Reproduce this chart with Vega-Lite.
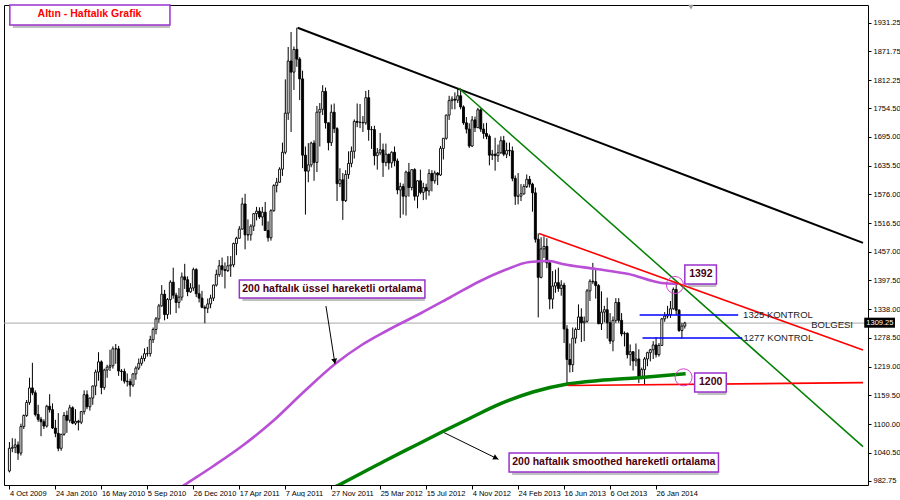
{
"$schema": "https://vega.github.io/schema/vega-lite/v6.json",
"width": 864,
"height": 480,
"padding": {"left": 3, "top": 4, "right": 0, "bottom": 0},
"background": "white",
"config": {
  "view": {"stroke": "black", "strokeWidth": 1},
  "axis": {"labelFont": "Liberation Sans", "labelFontSize": 7.5, "labelColor": "black", "tickColor": "black", "domainColor": "black", "grid": false, "title": null}
},
"resolve": {"axis": {"x": "independent", "y": "independent"}},
"datasets": {
  "candles": [
    {"d":"2009-10-04","o":1003,"h":1063,"l":1000,"c":1050},
    {"d":"2009-10-11","o":1050,"h":1071,"l":1042,"c":1052},
    {"d":"2009-10-18","o":1052,"h":1070,"l":1040,"c":1057},
    {"d":"2009-10-25","o":1057,"h":1064,"l":1026,"c":1040},
    {"d":"2009-11-01","o":1040,"h":1101,"l":1035,"c":1095},
    {"d":"2009-11-08","o":1095,"h":1120,"l":1090,"c":1118},
    {"d":"2009-11-15","o":1118,"h":1150,"l":1115,"c":1145},
    {"d":"2009-11-22","o":1145,"h":1196,"l":1140,"c":1175},
    {"d":"2009-11-29","o":1175,"h":1227,"l":1160,"c":1165},
    {"d":"2009-12-06","o":1165,"h":1170,"l":1116,"c":1120},
    {"d":"2009-12-13","o":1120,"h":1140,"l":1105,"c":1110},
    {"d":"2009-12-20","o":1110,"h":1115,"l":1075,"c":1105},
    {"d":"2009-12-27","o":1105,"h":1110,"l":1090,"c":1096},
    {"d":"2010-01-03","o":1096,"h":1140,"l":1093,"c":1137},
    {"d":"2010-01-10","o":1137,"h":1162,"l":1124,"c":1130},
    {"d":"2010-01-17","o":1130,"h":1143,"l":1090,"c":1092},
    {"d":"2010-01-24","o":1092,"h":1109,"l":1073,"c":1081},
    {"d":"2010-01-31","o":1081,"h":1123,"l":1044,"c":1050},
    {"d":"2010-02-07","o":1050,"h":1080,"l":1045,"c":1079},
    {"d":"2010-02-14","o":1079,"h":1125,"l":1076,"c":1118},
    {"d":"2010-02-21","o":1118,"h":1128,"l":1082,"c":1108},
    {"d":"2010-02-28","o":1108,"h":1140,"l":1103,"c":1134},
    {"d":"2010-03-07","o":1134,"h":1137,"l":1100,"c":1102},
    {"d":"2010-03-14","o":1102,"h":1131,"l":1098,"c":1106},
    {"d":"2010-03-21","o":1106,"h":1109,"l":1087,"c":1104},
    {"d":"2010-03-28","o":1104,"h":1127,"l":1100,"c":1126},
    {"d":"2010-04-04","o":1126,"h":1170,"l":1120,"c":1161},
    {"d":"2010-04-11","o":1161,"h":1170,"l":1131,"c":1136},
    {"d":"2010-04-18","o":1136,"h":1155,"l":1128,"c":1154},
    {"d":"2010-04-25","o":1154,"h":1180,"l":1140,"c":1179},
    {"d":"2010-05-02","o":1179,"h":1213,"l":1160,"c":1208},
    {"d":"2010-05-09","o":1208,"h":1249,"l":1190,"c":1229},
    {"d":"2010-05-16","o":1229,"h":1232,"l":1162,"c":1176},
    {"d":"2010-05-23","o":1176,"h":1215,"l":1171,"c":1212},
    {"d":"2010-05-30","o":1212,"h":1223,"l":1196,"c":1218},
    {"d":"2010-06-06","o":1218,"h":1254,"l":1210,"c":1221},
    {"d":"2010-06-13","o":1221,"h":1261,"l":1215,"c":1256},
    {"d":"2010-06-20","o":1256,"h":1266,"l":1225,"c":1256},
    {"d":"2010-06-27","o":1256,"h":1262,"l":1200,"c":1210},
    {"d":"2010-07-04","o":1210,"h":1214,"l":1190,"c":1209},
    {"d":"2010-07-11","o":1209,"h":1215,"l":1184,"c":1189},
    {"d":"2010-07-18","o":1189,"h":1205,"l":1178,"c":1188},
    {"d":"2010-07-25","o":1188,"h":1194,"l":1157,"c":1181},
    {"d":"2010-08-01","o":1181,"h":1206,"l":1177,"c":1204},
    {"d":"2010-08-08","o":1204,"h":1220,"l":1192,"c":1216},
    {"d":"2010-08-15","o":1216,"h":1236,"l":1212,"c":1226},
    {"d":"2010-08-22","o":1226,"h":1242,"l":1221,"c":1236},
    {"d":"2010-08-29","o":1236,"h":1257,"l":1230,"c":1246},
    {"d":"2010-09-05","o":1246,"h":1260,"l":1240,"c":1246},
    {"d":"2010-09-12","o":1246,"h":1283,"l":1240,"c":1275},
    {"d":"2010-09-19","o":1275,"h":1300,"l":1268,"c":1296},
    {"d":"2010-09-26","o":1296,"h":1322,"l":1286,"c":1318},
    {"d":"2010-10-03","o":1318,"h":1349,"l":1310,"c":1345},
    {"d":"2010-10-10","o":1345,"h":1388,"l":1343,"c":1369},
    {"d":"2010-10-17","o":1369,"h":1378,"l":1315,"c":1327},
    {"d":"2010-10-24","o":1327,"h":1361,"l":1318,"c":1358},
    {"d":"2010-10-31","o":1358,"h":1398,"l":1327,"c":1394},
    {"d":"2010-11-07","o":1394,"h":1424,"l":1360,"c":1367},
    {"d":"2010-11-14","o":1367,"h":1372,"l":1330,"c":1352},
    {"d":"2010-11-21","o":1352,"h":1382,"l":1340,"c":1363},
    {"d":"2010-11-28","o":1363,"h":1414,"l":1356,"c":1405},
    {"d":"2010-12-05","o":1405,"h":1432,"l":1380,"c":1399},
    {"d":"2010-12-12","o":1399,"h":1406,"l":1365,"c":1374},
    {"d":"2010-12-19","o":1374,"h":1392,"l":1372,"c":1382},
    {"d":"2010-12-26","o":1382,"h":1424,"l":1376,"c":1420},
    {"d":"2011-01-02","o":1420,"h":1423,"l":1363,"c":1370},
    {"d":"2011-01-09","o":1370,"h":1389,"l":1352,"c":1361},
    {"d":"2011-01-16","o":1361,"h":1376,"l":1340,"c":1342},
    {"d":"2011-01-23","o":1342,"h":1346,"l":1309,"c":1340},
    {"d":"2011-01-30","o":1340,"h":1360,"l":1330,"c":1349},
    {"d":"2011-02-06","o":1349,"h":1368,"l":1340,"c":1361},
    {"d":"2011-02-13","o":1361,"h":1389,"l":1355,"c":1388},
    {"d":"2011-02-20","o":1388,"h":1420,"l":1385,"c":1410},
    {"d":"2011-02-27","o":1410,"h":1440,"l":1405,"c":1428},
    {"d":"2011-03-06","o":1428,"h":1445,"l":1405,"c":1420},
    {"d":"2011-03-13","o":1420,"h":1435,"l":1381,"c":1418},
    {"d":"2011-03-20","o":1418,"h":1448,"l":1415,"c":1428},
    {"d":"2011-03-27","o":1428,"h":1448,"l":1405,"c":1430},
    {"d":"2011-04-03","o":1430,"h":1476,"l":1425,"c":1474},
    {"d":"2011-04-10","o":1474,"h":1488,"l":1450,"c":1485},
    {"d":"2011-04-17","o":1485,"h":1510,"l":1484,"c":1504},
    {"d":"2011-04-24","o":1504,"h":1569,"l":1503,"c":1556},
    {"d":"2011-05-01","o":1556,"h":1577,"l":1462,"c":1492},
    {"d":"2011-05-08","o":1492,"h":1524,"l":1480,"c":1492},
    {"d":"2011-05-15","o":1492,"h":1514,"l":1480,"c":1510},
    {"d":"2011-05-22","o":1510,"h":1537,"l":1500,"c":1536},
    {"d":"2011-05-29","o":1536,"h":1550,"l":1522,"c":1541},
    {"d":"2011-06-05","o":1541,"h":1549,"l":1525,"c":1529},
    {"d":"2011-06-12","o":1529,"h":1550,"l":1511,"c":1539},
    {"d":"2011-06-19","o":1539,"h":1560,"l":1505,"c":1501},
    {"d":"2011-06-26","o":1501,"h":1520,"l":1478,"c":1486},
    {"d":"2011-07-03","o":1486,"h":1545,"l":1480,"c":1542},
    {"d":"2011-07-10","o":1542,"h":1597,"l":1540,"c":1594},
    {"d":"2011-07-17","o":1594,"h":1610,"l":1580,"c":1601},
    {"d":"2011-07-24","o":1601,"h":1632,"l":1600,"c":1628},
    {"d":"2011-07-31","o":1628,"h":1683,"l":1614,"c":1663},
    {"d":"2011-08-07","o":1663,"h":1814,"l":1659,"c":1744},
    {"d":"2011-08-14","o":1744,"h":1881,"l":1730,"c":1852},
    {"d":"2011-08-21","o":1852,"h":1912,"l":1705,"c":1829},
    {"d":"2011-08-28","o":1829,"h":1882,"l":1792,"c":1876},
    {"d":"2011-09-04","o":1876,"h":1921,"l":1840,"c":1856},
    {"d":"2011-09-11","o":1856,"h":1860,"l":1771,"c":1815},
    {"d":"2011-09-18","o":1815,"h":1832,"l":1630,"c":1657},
    {"d":"2011-09-25","o":1657,"h":1675,"l":1534,"c":1624},
    {"d":"2011-10-02","o":1624,"h":1682,"l":1601,"c":1637},
    {"d":"2011-10-09","o":1637,"h":1685,"l":1632,"c":1682},
    {"d":"2011-10-16","o":1682,"h":1688,"l":1604,"c":1642},
    {"d":"2011-10-23","o":1642,"h":1759,"l":1622,"c":1746},
    {"d":"2011-10-30","o":1746,"h":1765,"l":1675,"c":1752},
    {"d":"2011-11-06","o":1752,"h":1802,"l":1740,"c":1789},
    {"d":"2011-11-13","o":1789,"h":1797,"l":1712,"c":1724},
    {"d":"2011-11-20","o":1724,"h":1725,"l":1667,"c":1683},
    {"d":"2011-11-27","o":1683,"h":1762,"l":1676,"c":1746},
    {"d":"2011-12-04","o":1746,"h":1764,"l":1703,"c":1712},
    {"d":"2011-12-11","o":1712,"h":1715,"l":1562,"c":1598},
    {"d":"2011-12-18","o":1598,"h":1630,"l":1591,"c":1606},
    {"d":"2011-12-25","o":1606,"h":1620,"l":1523,"c":1563},
    {"d":"2012-01-01","o":1563,"h":1626,"l":1560,"c":1617},
    {"d":"2012-01-08","o":1617,"h":1665,"l":1608,"c":1640},
    {"d":"2012-01-15","o":1640,"h":1675,"l":1632,"c":1665},
    {"d":"2012-01-22","o":1665,"h":1731,"l":1650,"c":1727},
    {"d":"2012-01-29","o":1727,"h":1764,"l":1715,"c":1725},
    {"d":"2012-02-05","o":1725,"h":1763,"l":1713,"c":1725},
    {"d":"2012-02-12","o":1725,"h":1738,"l":1705,"c":1724},
    {"d":"2012-02-19","o":1724,"h":1790,"l":1720,"c":1776},
    {"d":"2012-02-26","o":1776,"h":1792,"l":1687,"c":1710},
    {"d":"2012-03-04","o":1710,"h":1717,"l":1670,"c":1710},
    {"d":"2012-03-11","o":1710,"h":1718,"l":1636,"c":1656},
    {"d":"2012-03-18","o":1656,"h":1672,"l":1627,"c":1662},
    {"d":"2012-03-25","o":1662,"h":1703,"l":1657,"c":1668},
    {"d":"2012-04-01","o":1668,"h":1681,"l":1612,"c":1642},
    {"d":"2012-04-08","o":1642,"h":1681,"l":1634,"c":1659},
    {"d":"2012-04-15","o":1659,"h":1660,"l":1627,"c":1641},
    {"d":"2012-04-22","o":1641,"h":1665,"l":1631,"c":1663},
    {"d":"2012-04-29","o":1663,"h":1675,"l":1634,"c":1645},
    {"d":"2012-05-06","o":1645,"h":1650,"l":1576,"c":1585},
    {"d":"2012-05-13","o":1585,"h":1600,"l":1527,"c":1592},
    {"d":"2012-05-20","o":1592,"h":1598,"l":1534,"c":1572},
    {"d":"2012-05-27","o":1572,"h":1625,"l":1532,"c":1622},
    {"d":"2012-06-03","o":1622,"h":1641,"l":1571,"c":1590},
    {"d":"2012-06-10","o":1590,"h":1628,"l":1584,"c":1627},
    {"d":"2012-06-17","o":1627,"h":1630,"l":1563,"c":1572},
    {"d":"2012-06-24","o":1572,"h":1605,"l":1547,"c":1604},
    {"d":"2012-07-01","o":1604,"h":1627,"l":1576,"c":1580},
    {"d":"2012-07-08","o":1580,"h":1600,"l":1564,"c":1590},
    {"d":"2012-07-15","o":1590,"h":1598,"l":1565,"c":1583},
    {"d":"2012-07-22","o":1583,"h":1628,"l":1573,"c":1619},
    {"d":"2012-07-29","o":1619,"h":1626,"l":1582,"c":1604},
    {"d":"2012-08-05","o":1604,"h":1625,"l":1598,"c":1620},
    {"d":"2012-08-12","o":1620,"h":1622,"l":1595,"c":1616},
    {"d":"2012-08-19","o":1616,"h":1676,"l":1614,"c":1671},
    {"d":"2012-08-26","o":1671,"h":1692,"l":1648,"c":1692},
    {"d":"2012-09-02","o":1692,"h":1741,"l":1689,"c":1740},
    {"d":"2012-09-09","o":1740,"h":1780,"l":1730,"c":1770},
    {"d":"2012-09-16","o":1770,"h":1779,"l":1752,"c":1773},
    {"d":"2012-09-23","o":1773,"h":1787,"l":1752,"c":1771},
    {"d":"2012-09-30","o":1771,"h":1796,"l":1765,"c":1780},
    {"d":"2012-10-07","o":1780,"h":1795,"l":1752,"c":1757},
    {"d":"2012-10-14","o":1757,"h":1760,"l":1720,"c":1724},
    {"d":"2012-10-21","o":1724,"h":1736,"l":1702,"c":1711},
    {"d":"2012-10-28","o":1711,"h":1723,"l":1672,"c":1676},
    {"d":"2012-11-04","o":1676,"h":1738,"l":1674,"c":1730},
    {"d":"2012-11-11","o":1730,"h":1737,"l":1705,"c":1714},
    {"d":"2012-11-18","o":1714,"h":1755,"l":1713,"c":1751},
    {"d":"2012-11-25","o":1751,"h":1754,"l":1705,"c":1711},
    {"d":"2012-12-02","o":1711,"h":1723,"l":1691,"c":1702},
    {"d":"2012-12-09","o":1702,"h":1724,"l":1690,"c":1696},
    {"d":"2012-12-16","o":1696,"h":1700,"l":1636,"c":1657},
    {"d":"2012-12-23","o":1657,"h":1668,"l":1647,"c":1659},
    {"d":"2012-12-30","o":1659,"h":1693,"l":1625,"c":1656},
    {"d":"2013-01-06","o":1656,"h":1679,"l":1643,"c":1662},
    {"d":"2013-01-13","o":1662,"h":1696,"l":1660,"c":1687},
    {"d":"2013-01-20","o":1687,"h":1697,"l":1655,"c":1659},
    {"d":"2013-01-27","o":1659,"h":1683,"l":1651,"c":1667},
    {"d":"2013-02-03","o":1667,"h":1683,"l":1655,"c":1666},
    {"d":"2013-02-10","o":1666,"h":1675,"l":1603,"c":1609},
    {"d":"2013-02-17","o":1609,"h":1615,"l":1554,"c":1572},
    {"d":"2013-02-24","o":1572,"h":1620,"l":1555,"c":1572},
    {"d":"2013-03-03","o":1572,"h":1597,"l":1562,"c":1577},
    {"d":"2013-03-10","o":1577,"h":1597,"l":1575,"c":1592},
    {"d":"2013-03-17","o":1592,"h":1617,"l":1589,"c":1607},
    {"d":"2013-03-24","o":1607,"h":1614,"l":1590,"c":1597},
    {"d":"2013-03-31","o":1597,"h":1600,"l":1540,"c":1579},
    {"d":"2013-04-07","o":1579,"h":1590,"l":1476,"c":1483},
    {"d":"2013-04-14","o":1483,"h":1495,"l":1321,"c":1404},
    {"d":"2013-04-21","o":1404,"h":1487,"l":1402,"c":1463},
    {"d":"2013-04-28","o":1463,"h":1489,"l":1444,"c":1468},
    {"d":"2013-05-05","o":1468,"h":1485,"l":1423,"c":1434},
    {"d":"2013-05-12","o":1434,"h":1440,"l":1338,"c":1359},
    {"d":"2013-05-19","o":1359,"h":1417,"l":1339,"c":1386},
    {"d":"2013-05-26","o":1386,"h":1420,"l":1372,"c":1393},
    {"d":"2013-06-02","o":1393,"h":1424,"l":1374,"c":1381},
    {"d":"2013-06-09","o":1381,"h":1398,"l":1366,"c":1388},
    {"d":"2013-06-16","o":1388,"h":1393,"l":1268,"c":1297},
    {"d":"2013-06-23","o":1297,"h":1305,"l":1180,"c":1234},
    {"d":"2013-06-30","o":1234,"h":1267,"l":1207,"c":1223},
    {"d":"2013-07-07","o":1223,"h":1300,"l":1208,"c":1278},
    {"d":"2013-07-14","o":1278,"h":1300,"l":1267,"c":1296},
    {"d":"2013-07-21","o":1296,"h":1348,"l":1295,"c":1322},
    {"d":"2013-07-28","o":1322,"h":1340,"l":1270,"c":1310},
    {"d":"2013-08-04","o":1310,"h":1323,"l":1272,"c":1313},
    {"d":"2013-08-11","o":1313,"h":1380,"l":1310,"c":1376},
    {"d":"2013-08-18","o":1376,"h":1400,"l":1355,"c":1396},
    {"d":"2013-08-25","o":1396,"h":1434,"l":1390,"c":1395},
    {"d":"2013-09-01","o":1395,"h":1422,"l":1360,"c":1387},
    {"d":"2013-09-08","o":1387,"h":1390,"l":1307,"c":1308},
    {"d":"2013-09-15","o":1308,"h":1375,"l":1295,"c":1332},
    {"d":"2013-09-22","o":1332,"h":1345,"l":1311,"c":1337},
    {"d":"2013-09-29","o":1337,"h":1362,"l":1277,"c":1310},
    {"d":"2013-10-06","o":1310,"h":1330,"l":1266,"c":1272},
    {"d":"2013-10-13","o":1272,"h":1323,"l":1251,"c":1315},
    {"d":"2013-10-20","o":1315,"h":1361,"l":1310,"c":1352},
    {"d":"2013-10-27","o":1352,"h":1361,"l":1310,"c":1315},
    {"d":"2013-11-03","o":1315,"h":1330,"l":1282,"c":1287},
    {"d":"2013-11-10","o":1287,"h":1292,"l":1261,"c":1288},
    {"d":"2013-11-17","o":1288,"h":1290,"l":1236,"c":1244},
    {"d":"2013-11-24","o":1244,"h":1265,"l":1221,"c":1250},
    {"d":"2013-12-01","o":1250,"h":1251,"l":1211,"c":1231},
    {"d":"2013-12-08","o":1231,"h":1267,"l":1220,"c":1235},
    {"d":"2013-12-15","o":1235,"h":1255,"l":1185,"c":1197},
    {"d":"2013-12-22","o":1197,"h":1217,"l":1193,"c":1213},
    {"d":"2013-12-29","o":1213,"h":1239,"l":1182,"c":1235},
    {"d":"2014-01-05","o":1235,"h":1250,"l":1220,"c":1248},
    {"d":"2014-01-12","o":1248,"h":1256,"l":1230,"c":1254},
    {"d":"2014-01-19","o":1254,"h":1272,"l":1235,"c":1264},
    {"d":"2014-01-26","o":1264,"h":1280,"l":1238,"c":1244},
    {"d":"2014-02-02","o":1244,"h":1268,"l":1240,"c":1263},
    {"d":"2014-02-09","o":1263,"h":1320,"l":1262,"c":1318},
    {"d":"2014-02-16","o":1318,"h":1332,"l":1312,"c":1324},
    {"d":"2014-02-23","o":1324,"h":1345,"l":1319,"c":1327},
    {"d":"2014-03-02","o":1327,"h":1355,"l":1320,"c":1339},
    {"d":"2014-03-09","o":1339,"h":1383,"l":1337,"c":1379},
    {"d":"2014-03-16","o":1379,"h":1392,"l":1326,"c":1336},
    {"d":"2014-03-23","o":1336,"h":1338,"l":1291,"c":1294},
    {"d":"2014-03-30","o":1294,"h":1310,"l":1277,"c":1303},
    {"d":"2014-04-06","o":1303,"h":1312,"l":1298,"c":1309.25}
  ],
  "boxes": [
    {"name":"title","d":"2009-10-05","d2":"2010-10-30","p":1926.6,"p2":1968},
    {"name":"ema","d":"2011-04-17","d2":"2012-07-12","p":1361.3,"p2":1398.5},
    {"name":"sma","d":"2013-02-02","d2":"2014-06-27","p":1000.9,"p2":1040.3},
    {"name":"top","d":"2014-04-06","d2":"2014-06-22","p":1390.2,"p2":1429.6},
    {"name":"bottom","d":"2014-04-30","d2":"2014-07-16","p":1166.6,"p2":1205.9}
  ]
},
"layer": [
  {
    "data": {"values": [{"p": 1309.25}]},
    "mark": {"type": "rule", "color": "#a8a8a8", "strokeWidth": 1},
    "encoding": {"y": {"field": "p", "type": "quantitative", "scale": {"domain": [974, 1968], "zero": false, "nice": false}, "axis": null}}
  },
  {
    "data": {"name": "candles"},
    "mark": {"type": "rule", "color": "black", "strokeWidth": 1, "clip": true},
    "encoding": {
      "x": {"field": "d", "type": "temporal",
        "scale": {"type": "utc", "domain": [{"year": 2009, "month": 10, "date": 3, "utc": true}, {"year": 2015, "month": 6, "date": 14, "utc": true}]},
        "axis": {"orient": "bottom", "format": "%-d %b %Y", "labelAlign": "left", "labelBaseline": "top", "labelPadding": 0, "tickSize": 4, "labelFlush": false, "labelOverlap": false, "labelBound": false, "domain": false,
          "values": [
            {"year": 2009, "month": 10, "date": 4, "utc": true},
            {"year": 2010, "month": 1, "date": 24, "utc": true},
            {"year": 2010, "month": 5, "date": 16, "utc": true},
            {"year": 2010, "month": 9, "date": 5, "utc": true},
            {"year": 2010, "month": 12, "date": 26, "utc": true},
            {"year": 2011, "month": 4, "date": 17, "utc": true},
            {"year": 2011, "month": 8, "date": 7, "utc": true},
            {"year": 2011, "month": 11, "date": 27, "utc": true},
            {"year": 2012, "month": 3, "date": 25, "utc": true},
            {"year": 2012, "month": 7, "date": 15, "utc": true},
            {"year": 2012, "month": 11, "date": 4, "utc": true},
            {"year": 2013, "month": 2, "date": 24, "utc": true},
            {"year": 2013, "month": 6, "date": 16, "utc": true},
            {"year": 2013, "month": 10, "date": 6, "utc": true},
            {"year": 2014, "month": 1, "date": 26, "utc": true}
          ]}},
      "y": {"field": "l", "type": "quantitative", "scale": {"domain": [974, 1968], "zero": false, "nice": false},
        "axis": {"orient": "right", "format": ".2f", "labelAlign": "left", "labelBaseline": "middle", "labelPadding": 2, "tickSize": 3, "domain": false,
          "values": [982.75, 1040.5, 1100, 1159.5, 1219, 1278.5, 1338, 1397.5, 1457, 1516.5, 1576, 1635.5, 1695, 1754.5, 1812.25, 1871.75, 1931.25]}},
      "y2": {"field": "h"}
    }
  },
  {
    "data": {"name": "candles"},
    "mark": {"type": "bar", "width": 2, "stroke": "black", "strokeWidth": 0.9, "clip": true},
    "encoding": {
      "x": {"field": "d", "type": "temporal", "scale": {"type": "utc", "domain": [{"year": 2009, "month": 10, "date": 3, "utc": true}, {"year": 2015, "month": 6, "date": 14, "utc": true}]}, "axis": null},
      "y": {"field": "o", "type": "quantitative", "scale": {"domain": [974, 1968], "zero": false, "nice": false}, "axis": null},
      "y2": {"field": "c"},
      "fill": {"condition": {"test": "datum.c >= datum.o", "value": "white"}, "value": "black"}
    }
  },
  {
    "data": {"values": [
      {"d":"2010-12-01","p":972.2},{"d":"2010-12-08","p":976.1},{"d":"2011-02-13","p":1013.4},{"d":"2011-04-27","p":1056.8},
      {"d":"2011-07-08","p":1106.5},{"d":"2011-09-18","p":1164.5},{"d":"2011-12-06","p":1224.6},{"d":"2012-02-09","p":1263.9},
      {"d":"2012-04-09","p":1292.9},{"d":"2012-07-03","p":1330.2},{"d":"2012-09-13","p":1363.3},{"d":"2012-11-24","p":1396.5},
      {"d":"2013-01-23","p":1419.2},{"d":"2013-03-24","p":1435.8},{"d":"2013-05-12","p":1437.9},{"d":"2013-06-12","p":1431.7},
      {"d":"2013-09-02","p":1421.3},{"d":"2013-11-20","p":1410.9},{"d":"2014-02-08","p":1392.3},{"d":"2014-03-21","p":1390.2}
    ]},
    "mark": {"type": "line", "color": "#b94fd6", "strokeWidth": 2.6, "clip": true, "interpolate": "monotone"},
    "encoding": {
      "x": {"field": "d", "type": "temporal", "scale": {"type": "utc", "domain": [{"year": 2009, "month": 10, "date": 3, "utc": true}, {"year": 2015, "month": 6, "date": 14, "utc": true}]}, "axis": null},
      "y": {"field": "p", "type": "quantitative", "scale": {"domain": [974, 1968], "zero": false, "nice": false}, "axis": null}
    }
  },
  {
    "data": {"values": [
      {"d":"2011-11-29","p":967},{"d":"2011-12-19","p":975.5},{"d":"2012-04-05","p":1023.7},{"d":"2012-06-16","p":1054.8},
      {"d":"2012-08-27","p":1085.8},{"d":"2012-10-31","p":1112.8},{"d":"2013-01-11","p":1141.8},{"d":"2013-04-01","p":1166.6},
      {"d":"2013-06-21","p":1182.5},{"d":"2013-09-09","p":1190.4},{"d":"2013-12-14","p":1196.2},{"d":"2014-04-08","p":1204.5}
    ]},
    "mark": {"type": "line", "color": "#008000", "strokeWidth": 3.5, "clip": true, "interpolate": "monotone"},
    "encoding": {
      "x": {"field": "d", "type": "temporal", "scale": {"type": "utc", "domain": [{"year": 2009, "month": 10, "date": 3, "utc": true}, {"year": 2015, "month": 6, "date": 14, "utc": true}]}, "axis": null},
      "y": {"field": "p", "type": "quantitative", "scale": {"domain": [974, 1968], "zero": false, "nice": false}, "axis": null}
    }
  },
  {
    "data": {"values": [{"d":"2011-09-06","p":1921,"d2":"2015-06-14","p2":1475.5}]},
    "mark": {"type": "rule", "color": "black", "strokeWidth": 2, "clip": true},
    "encoding": {
      "x": {"field": "d", "type": "temporal", "scale": {"type": "utc", "domain": [{"year": 2009, "month": 10, "date": 3, "utc": true}, {"year": 2015, "month": 6, "date": 14, "utc": true}]}, "axis": null},
      "y": {"field": "p", "type": "quantitative", "scale": {"domain": [974, 1968], "zero": false, "nice": false}, "axis": null},
      "x2": {"field": "d2"}, "y2": {"field": "p2"}
    }
  },
  {
    "data": {"values": [{"d":"2012-10-02","p":1796,"d2":"2015-06-14","p2":1053.4}]},
    "mark": {"type": "rule", "color": "#008000", "strokeWidth": 1.5, "clip": true},
    "encoding": {
      "x": {"field": "d", "type": "temporal", "scale": {"type": "utc", "domain": [{"year": 2009, "month": 10, "date": 3, "utc": true}, {"year": 2015, "month": 6, "date": 14, "utc": true}]}, "axis": null},
      "y": {"field": "p", "type": "quantitative", "scale": {"domain": [974, 1968], "zero": false, "nice": false}, "axis": null},
      "x2": {"field": "d2"}, "y2": {"field": "p2"}
    }
  },
  {
    "data": {"values": [
      {"d":"2013-04-16","p":1495,"d2":"2015-06-14","p2":1253.6},
      {"d":"2013-06-26","p":1180,"d2":"2015-06-14","p2":1186}
    ]},
    "mark": {"type": "rule", "color": "#ff0000", "strokeWidth": 1.6, "clip": true},
    "encoding": {
      "x": {"field": "d", "type": "temporal", "scale": {"type": "utc", "domain": [{"year": 2009, "month": 10, "date": 3, "utc": true}, {"year": 2015, "month": 6, "date": 14, "utc": true}]}, "axis": null},
      "y": {"field": "p", "type": "quantitative", "scale": {"domain": [974, 1968], "zero": false, "nice": false}, "axis": null},
      "x2": {"field": "d2"}, "y2": {"field": "p2"}
    }
  },
  {
    "data": {"values": [
      {"d":"2013-12-17","p":1326,"d2":"2014-08-14","p2":1326},
      {"d":"2013-12-24","p":1278.4,"d2":"2014-08-24","p2":1278.4}
    ]},
    "mark": {"type": "rule", "color": "#0000ff", "strokeWidth": 1.5},
    "encoding": {
      "x": {"field": "d", "type": "temporal", "scale": {"type": "utc", "domain": [{"year": 2009, "month": 10, "date": 3, "utc": true}, {"year": 2015, "month": 6, "date": 14, "utc": true}]}, "axis": null},
      "y": {"field": "p", "type": "quantitative", "scale": {"domain": [974, 1968], "zero": false, "nice": false}, "axis": null},
      "x2": {"field": "d2"}, "y2": {"field": "p2"}
    }
  },
  {
    "data": {"values": [
      {"d":"2011-11-14","p":1344.7,"d2":"2011-12-06","p2":1224.6},
      {"d":"2012-08-28","p":1082.3,"d2":"2013-01-07","p2":1027.2}
    ]},
    "mark": {"type": "rule", "color": "black", "strokeWidth": 1},
    "encoding": {
      "x": {"field": "d", "type": "temporal", "scale": {"type": "utc", "domain": [{"year": 2009, "month": 10, "date": 3, "utc": true}, {"year": 2015, "month": 6, "date": 14, "utc": true}]}, "axis": null},
      "y": {"field": "p", "type": "quantitative", "scale": {"domain": [974, 1968], "zero": false, "nice": false}, "axis": null},
      "x2": {"field": "d2"}, "y2": {"field": "p2"}
    }
  },
  {
    "data": {"values": [{"d":"2011-12-05","p":1230.2}]},
    "mark": {"type": "point", "shape": "triangle-down", "filled": true, "color": "black", "size": 36, "angle": 351, "opacity": 1},
    "encoding": {
      "x": {"field": "d", "type": "temporal", "scale": {"type": "utc", "domain": [{"year": 2009, "month": 10, "date": 3, "utc": true}, {"year": 2015, "month": 6, "date": 14, "utc": true}]}, "axis": null},
      "y": {"field": "p", "type": "quantitative", "scale": {"domain": [974, 1968], "zero": false, "nice": false}, "axis": null}
    }
  },
  {
    "data": {"values": [{"d":"2013-01-01","p":1029.9}]},
    "mark": {"type": "point", "shape": "triangle-down", "filled": true, "color": "black", "size": 36, "angle": 296, "opacity": 1},
    "encoding": {
      "x": {"field": "d", "type": "temporal", "scale": {"type": "utc", "domain": [{"year": 2009, "month": 10, "date": 3, "utc": true}, {"year": 2015, "month": 6, "date": 14, "utc": true}]}, "axis": null},
      "y": {"field": "p", "type": "quantitative", "scale": {"domain": [974, 1968], "zero": false, "nice": false}, "axis": null}
    }
  },
  {
    "data": {"values": [{"d":"2014-03-13","p":1388.2},{"d":"2014-04-03","p":1197}]},
    "mark": {"type": "point", "shape": "circle", "filled": false, "color": "#d040d0", "strokeWidth": 1, "size": 290, "opacity": 1},
    "encoding": {
      "x": {"field": "d", "type": "temporal", "scale": {"type": "utc", "domain": [{"year": 2009, "month": 10, "date": 3, "utc": true}, {"year": 2015, "month": 6, "date": 14, "utc": true}]}, "axis": null},
      "y": {"field": "p", "type": "quantitative", "scale": {"domain": [974, 1968], "zero": false, "nice": false}, "axis": null}
    }
  },
  {
    "data": {"name": "boxes"},
    "mark": {"type": "rect", "fill": "#8a8a8a", "opacity": 0.55, "xOffset": 3, "yOffset": 3},
    "encoding": {
      "x": {"field": "d", "type": "temporal", "scale": {"type": "utc", "domain": [{"year": 2009, "month": 10, "date": 3, "utc": true}, {"year": 2015, "month": 6, "date": 14, "utc": true}]}, "axis": null},
      "y": {"field": "p", "type": "quantitative", "scale": {"domain": [974, 1968], "zero": false, "nice": false}, "axis": null},
      "x2": {"field": "d2"}, "y2": {"field": "p2"}
    }
  },
  {
    "data": {"name": "boxes"},
    "mark": {"type": "rect", "fill": "white", "stroke": "#9932cc", "strokeWidth": 1.5},
    "encoding": {
      "x": {"field": "d", "type": "temporal", "scale": {"type": "utc", "domain": [{"year": 2009, "month": 10, "date": 3, "utc": true}, {"year": 2015, "month": 6, "date": 14, "utc": true}]}, "axis": null},
      "y": {"field": "p", "type": "quantitative", "scale": {"domain": [974, 1968], "zero": false, "nice": false}, "axis": null},
      "x2": {"field": "d2"}, "y2": {"field": "p2"}
    }
  },
  {
    "data": {"values": [{"d":"2010-04-17","p":1949.4,"t":"Altın - Haftalık Grafik"}]},
    "mark": {"type": "text", "color": "#ff0000", "font": "Liberation Sans", "fontWeight": "bold", "fontSize": 10.5, "align": "center", "baseline": "middle"},
    "encoding": {
      "x": {"field": "d", "type": "temporal", "scale": {"type": "utc", "domain": [{"year": 2009, "month": 10, "date": 3, "utc": true}, {"year": 2015, "month": 6, "date": 14, "utc": true}]}, "axis": null},
      "y": {"field": "p", "type": "quantitative", "scale": {"domain": [974, 1968], "zero": false, "nice": false}, "axis": null},
      "text": {"field": "t"}
    }
  },
  {
    "data": {"values": [
      {"d":"2011-11-29","p":1380,"t":"200 haftalık üssel hareketli ortalama"},
      {"d":"2013-10-15","p":1020.6,"t":"200 haftalık smoothed hareketli ortalama"},
      {"d":"2014-05-15","p":1410,"t":"1392"},
      {"d":"2014-06-08","p":1186.3,"t":"1200"}
    ]},
    "mark": {"type": "text", "color": "#4a0010", "font": "Liberation Sans", "fontWeight": "bold", "fontSize": 10.5, "align": "center", "baseline": "middle"},
    "encoding": {
      "x": {"field": "d", "type": "temporal", "scale": {"type": "utc", "domain": [{"year": 2009, "month": 10, "date": 3, "utc": true}, {"year": 2015, "month": 6, "date": 14, "utc": true}]}, "axis": null},
      "y": {"field": "p", "type": "quantitative", "scale": {"domain": [974, 1968], "zero": false, "nice": false}, "axis": null},
      "text": {"field": "t"}
    }
  },
  {
    "data": {"values": [
      {"d":"2014-08-26","p":1326,"t":"1325 KONTROL"},
      {"d":"2014-08-27","p":1278.4,"t":"1277 KONTROL"},
      {"d":"2015-02-08","p":1304.7,"t":"BOLGESI"}
    ]},
    "mark": {"type": "text", "color": "#222222", "font": "Liberation Sans", "fontSize": 9.5, "align": "left", "baseline": "middle"},
    "encoding": {
      "x": {"field": "d", "type": "temporal", "scale": {"type": "utc", "domain": [{"year": 2009, "month": 10, "date": 3, "utc": true}, {"year": 2015, "month": 6, "date": 14, "utc": true}]}, "axis": null},
      "y": {"field": "p", "type": "quantitative", "scale": {"domain": [974, 1968], "zero": false, "nice": false}, "axis": null},
      "text": {"field": "t"}
    }
  },
  {
    "data": {"values": [{"d":"2014-04-21","p":1963.5}]},
    "mark": {"type": "point", "shape": "triangle-down", "filled": true, "color": "#999999", "size": 30, "opacity": 1},
    "encoding": {
      "x": {"field": "d", "type": "temporal", "scale": {"type": "utc", "domain": [{"year": 2009, "month": 10, "date": 3, "utc": true}, {"year": 2015, "month": 6, "date": 14, "utc": true}]}, "axis": null},
      "y": {"field": "p", "type": "quantitative", "scale": {"domain": [974, 1968], "zero": false, "nice": false}, "axis": null}
    }
  },
  {
    "data": {"values": [{"d":"2015-06-17","d2":"2015-08-31","p":1299.7,"p2":1320.5}]},
    "mark": {"type": "rect", "fill": "black"},
    "encoding": {
      "x": {"field": "d", "type": "temporal", "scale": {"type": "utc", "domain": [{"year": 2009, "month": 10, "date": 3, "utc": true}, {"year": 2015, "month": 6, "date": 14, "utc": true}]}, "axis": null},
      "y": {"field": "p", "type": "quantitative", "scale": {"domain": [974, 1968], "zero": false, "nice": false}, "axis": null},
      "x2": {"field": "d2"}, "y2": {"field": "p2"}
    }
  },
  {
    "data": {"values": [{"d":"2015-06-22","p":1309.25,"t":"1309.25"}]},
    "mark": {"type": "text", "color": "white", "font": "Liberation Sans", "fontSize": 7.5, "align": "left", "baseline": "middle"},
    "encoding": {
      "x": {"field": "d", "type": "temporal", "scale": {"type": "utc", "domain": [{"year": 2009, "month": 10, "date": 3, "utc": true}, {"year": 2015, "month": 6, "date": 14, "utc": true}]}, "axis": null},
      "y": {"field": "p", "type": "quantitative", "scale": {"domain": [974, 1968], "zero": false, "nice": false}, "axis": null},
      "text": {"field": "t"}
    }
  }
]
}
